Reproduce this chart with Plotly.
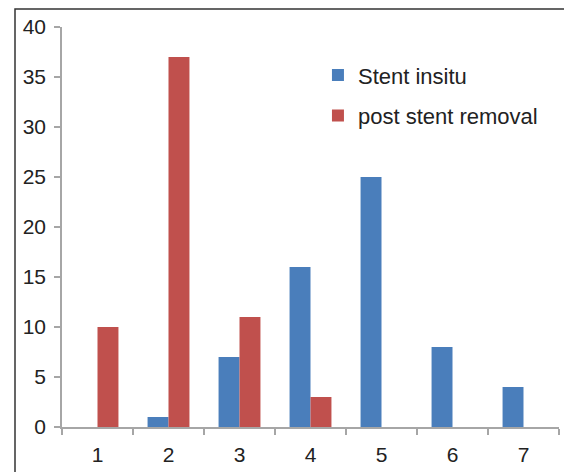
import plotly.graph_objects as go

categories = ["1", "2", "3", "4", "5", "6", "7"]
stent_insitu = [0, 1, 7, 16, 25, 8, 4]
post_removal = [10, 37, 11, 3, 0, 0, 0]
y_ticks = [0, 5, 10, 15, 20, 25, 30, 35, 40]

fig = go.Figure()
fig.add_bar(x=categories, y=stent_insitu, name="Stent insitu",
            marker=dict(color="#4a7ebb", line=dict(width=0)), legendgroup="a")
fig.add_bar(x=categories, y=post_removal, name="post stent removal",
            marker=dict(color="#c0504d", line=dict(width=0)), legendgroup="b")

axis_font = dict(family="Liberation Sans, Arial, sans-serif", size=21, color="#222222")
legend_font = dict(family="Liberation Sans, Arial, sans-serif", size=22, color="#222222")
fig.update_layout(
    width=564, height=464,
    margin=dict(l=54, r=13, t=19, b=45),
    paper_bgcolor="white", plot_bgcolor="white",
    barmode="group", bargap=0.41, bargroupgap=0,
    showlegend=True,
    legend=dict(x=0.515, y=0.932, xanchor="left", yanchor="top",
                font=legend_font, bgcolor="rgba(0,0,0,0)",
                tracegroupgap=9, itemwidth=30),
    xaxis=dict(type="category", showline=True, linecolor="#a6a6a6", linewidth=1.5,
               ticks="outside", tickson="boundaries", ticklen=6, tickcolor="#a6a6a6",
               tickwidth=1.5, showgrid=False, tickfont=axis_font, zeroline=False,
               ticklabelstandoff=8, automargin=False),
    yaxis=dict(range=[0, 40], tickvals=y_ticks, showline=True, linecolor="#a6a6a6",
               linewidth=1.5, ticks="outside", ticklen=6, tickcolor="#a6a6a6",
               tickwidth=1.5, showgrid=False, tickfont=axis_font, zeroline=False,
               ticklabelstandoff=4, automargin=False),
    shapes=[dict(type="rect", xref="paper", yref="paper",
                 x0=(7 - 54) / 497, x1=1.2, y0=-0.3, y1=1 + 18 / 400,
                 line=dict(color="#333333", width=1.5), layer="below")],
)
fig.write_html("out.html")
